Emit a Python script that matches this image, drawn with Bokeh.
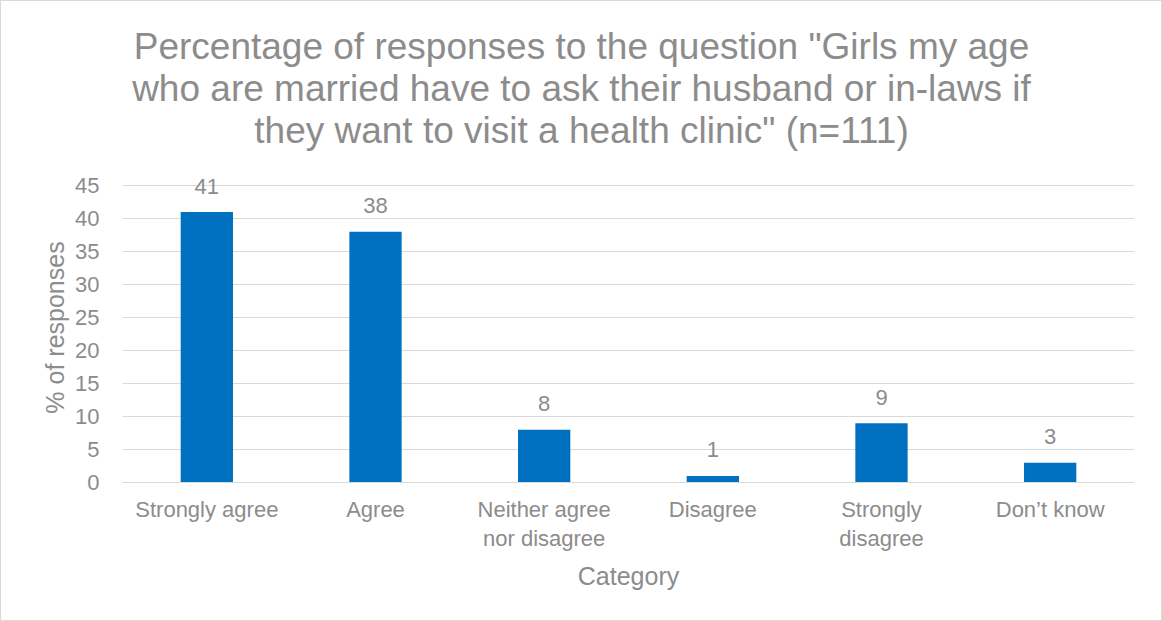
from bokeh.plotting import figure
from bokeh.models import ColumnDataSource, FactorRange, FixedTicker, Range1d
from bokeh.layouts import column
from bokeh.embed import file_html
from bokeh.resources import INLINE

categories = ["Strongly agree", "Agree", "Neither agree\nnor disagree", "Disagree", "Strongly\ndisagree", "Don\u2019t know"]
values = [41, 38, 8, 1, 9, 3]
y_ticks = [0, 5, 10, 15, 20, 25, 30, 35, 40, 45]
title_lines = [
    "Percentage of responses to the question \"Girls my age",
    "who are married have to ask their husband or in-laws if",
    "they want to visit a health clinic\" (n=111)",
]

FONT = "Liberation Sans"
GRAY = "#8C8C8C"
W = 1160
LEFT, RIGHT = 121, 27

# ---- title block (its own small figure so the text centres on the whole chart) ----
tsrc = ColumnDataSource(dict(x=[W / 2] * len(title_lines),
                             y=[len(title_lines) - i for i in range(len(title_lines))],
                             t=title_lines))
tf = figure(width=W, height=168, title=None, x_range=Range1d(LEFT, W - RIGHT),
            y_range=Range1d(0.06, 4.06), output_backend="svg", toolbar_location=None,
            min_border_left=LEFT, min_border_right=RIGHT, min_border_top=0, min_border_bottom=0)
tf.axis.visible = False
tf.grid.visible = False
tf.outline_line_color = None
tf.text(x="x", y="y", text="t", source=tsrc, text_align="center", text_baseline="alphabetic",
        text_font_size="37px", text_color=GRAY, text_font={"value": FONT})

# ---- main chart ----
src = ColumnDataSource(dict(cat=categories, val=values, lab=[str(v) for v in values]))

p = figure(width=W, height=451, x_range=FactorRange(*categories, range_padding=0),
           y_range=Range1d(0, 47), output_backend="svg", toolbar_location=None,
           min_border_left=LEFT, min_border_right=RIGHT, min_border_top=3, min_border_bottom=138)
p.outline_line_color = None

p.vbar(x="cat", top="val", width=0.31, source=src, color="#0070C0", line_color=None)
p.text(x="cat", y="val", text="lab", source=src, text_align="center", text_baseline="alphabetic",
       y_offset=-26, text_font_size="22px", text_color=GRAY, text_font={"value": FONT})

p.yaxis.ticker = FixedTicker(ticks=y_ticks)
p.ygrid.ticker = FixedTicker(ticks=y_ticks)
p.yaxis.axis_line_color = None
p.yaxis.major_tick_line_color = None
p.yaxis.minor_tick_line_color = None
p.yaxis.major_label_text_font_size = "22px"
p.yaxis.major_label_text_color = GRAY
p.yaxis.major_label_text_font = FONT
p.yaxis.major_label_standoff = 17
p.yaxis.axis_label = "% of responses"
p.yaxis.axis_label_text_font_size = "25px"
p.yaxis.axis_label_text_color = GRAY
p.yaxis.axis_label_text_font = FONT
p.yaxis.axis_label_text_font_style = "normal"
p.yaxis.axis_label_standoff = 3

p.xaxis.axis_line_color = "#D9D9D9"
p.xaxis.major_tick_line_color = None
p.xaxis.minor_tick_line_color = None
p.xaxis.major_label_text_font_size = "22px"
p.xaxis.major_label_text_color = GRAY
p.xaxis.major_label_text_font = FONT
p.xaxis.major_label_text_line_height = 1.18
p.xaxis.major_label_standoff = 8
p.xaxis.axis_label = "Category"
p.xaxis.axis_label_text_font_size = "25px"
p.xaxis.axis_label_text_color = GRAY
p.xaxis.axis_label_text_font = FONT
p.xaxis.axis_label_text_font_style = "normal"
p.xaxis.axis_label_standoff = 8

p.xgrid.grid_line_color = None
p.ygrid.grid_line_color = "#D9D9D9"

layout = column(tf, p, spacing=0, styles={"border": "1px solid #D9D9D9"})

open("out.html", "w").write(file_html(layout, INLINE))
